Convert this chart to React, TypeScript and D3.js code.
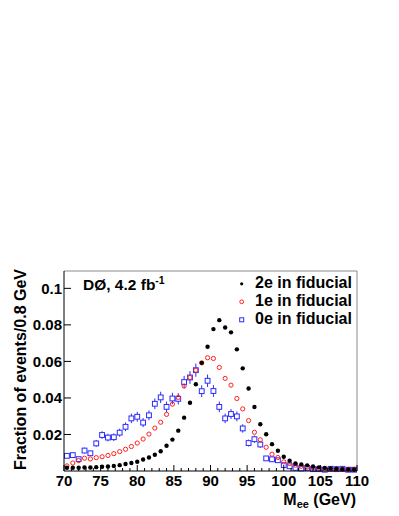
import React from "react";
import * as d3 from "d3";

// ---- data ----
const binCenters: number[] = [
  70.4, 71.2, 72.0, 72.8, 73.6, 74.4, 75.2, 76.0, 76.8, 77.6,
  78.4, 79.2, 80.0, 80.8, 81.6, 82.4, 83.2, 84.0, 84.8, 85.6,
  86.4, 87.2, 88.0, 88.8, 89.6, 90.4, 91.2, 92.0, 92.8, 93.6,
  94.4, 95.2, 96.0, 96.8, 97.6, 98.4, 99.2, 100.0, 100.8, 101.6,
  102.4, 103.2, 104.0, 104.8, 105.6, 106.4, 107.2, 108.0, 108.8, 109.6,
];

const twoE: number[] = [
  0.0018, 0.0018, 0.0018, 0.0019, 0.0019, 0.0021, 0.0023, 0.0025, 0.0028, 0.0032,
  0.0038, 0.0044, 0.0051, 0.0063, 0.0074, 0.0089, 0.0108, 0.0138, 0.0172, 0.0221,
  0.0292, 0.0374, 0.0475, 0.0592, 0.0680, 0.0777, 0.0826, 0.0786, 0.0759, 0.0666,
  0.0562, 0.0452, 0.0350, 0.0256, 0.0201, 0.0147, 0.0111, 0.0078, 0.0056, 0.0042,
  0.0036, 0.0031, 0.0025, 0.0020, 0.0017, 0.0014, 0.0012, 0.0010, 0.0009, 0.0008,
];

const oneE: number[] = [
  0.0028, 0.0044, 0.0057, 0.0070, 0.0066, 0.0073, 0.0078, 0.0085, 0.0095, 0.0106,
  0.0119, 0.0134, 0.0153, 0.0175, 0.0202, 0.0235, 0.0267, 0.0310, 0.0366, 0.0403,
  0.0465, 0.0512, 0.0552, 0.0592, 0.0620, 0.0616, 0.0567, 0.0507, 0.0470, 0.0397,
  0.0340, 0.0276, 0.0212, 0.0171, 0.0130, 0.0092, 0.0074, 0.0050, 0.0041, 0.0032,
  0.0026, 0.0023, 0.0017, 0.0014, 0.0011, 0.0010, 0.0010, 0.0010, 0.0009, 0.0009,
];

const zeroE: number[] = [
  0.0083, 0.0087, 0.0065, 0.0112, 0.0097, 0.0151, 0.0197, 0.0183, 0.0185, 0.0210,
  0.0242, 0.0288, 0.0297, 0.0265, 0.0305, 0.0368, 0.0403, 0.0351, 0.0397, 0.0395,
  0.0487, 0.0512, 0.0552, 0.0437, 0.0494, 0.0438, 0.0351, 0.0288, 0.0312, 0.0299,
  0.0233, 0.0153, 0.0174, 0.0145, 0.0069, 0.0064, 0.0059, 0.0032, 0.0026, 0.0017,
  0.0014, 0.0017, 0.0010, 0.0010, 0.0007, 0.0012, 0.0010, 0.0012, 0.0007, 0.0007,
];

const zeroEErr: number[] = [
  0.0014, 0.0014, 0.0012, 0.0016, 0.0015, 0.0019, 0.0021, 0.0021, 0.0021, 0.0022,
  0.0024, 0.0026, 0.0027, 0.0025, 0.0027, 0.0029, 0.0031, 0.0029, 0.0031, 0.0031,
  0.0034, 0.0035, 0.0036, 0.0032, 0.0034, 0.0032, 0.0029, 0.0026, 0.0027, 0.0027,
  0.0023, 0.0019, 0.0020, 0.0018, 0.0013, 0.0012, 0.0012, 0.0009, 0.0008, 0.0007,
  0.0006, 0.0007, 0.0005, 0.0005, 0.0004, 0.0006, 0.0005, 0.0006, 0.0004, 0.0004,
];

const xTicks: number[] = [70, 75, 80, 85, 90, 95, 100, 105, 110];
const yTicks: number[] = [0.02, 0.04, 0.06, 0.08, 0.1];
const yTickLabels: string[] = ["0.02", "0.04", "0.06", "0.08", "0.1"];
const legendLabels: string[] = ["2e in fiducial", "1e in fiducial", "0e in fiducial"];

// ---- layout ----
const W = 399;
const H = 516;
const L = 64;
const R = 357;
const T = 271;
const B = 471;
const FONT = "'Liberation Sans', Arial, Helvetica, sans-serif";
const RED = "#ff2020";
const BLUE = "#2a2aff";

export default function App() {
  const x = d3.scaleLinear().domain([70, 110]).range([L, R]);
  const y = d3.scaleLinear().domain([0, 0.1095]).range([B, T]);
  const minorX = d3.range(70, 111, 1).filter((v) => v % 5 !== 0);

  const sq = 4.8;

  return (
    <svg
      width={W}
      height={H}
      style={{ position: "absolute", left: 0, top: 0, background: "#fff" }}
      fontFamily={FONT}
      fontWeight="bold"
    >
      <rect x={0} y={0} width={W} height={H} fill="#fff" />
      {/* frame */}
      <line x1={L} y1={T} x2={R} y2={T} stroke="#8a8a8a" strokeWidth={1} />
      <line x1={R} y1={T} x2={R} y2={B} stroke="#8a8a8a" strokeWidth={1} />

      {/* data: 0e (blue squares with error bars) */}
      {binCenters.map((c, i) => {
        const cx = x(c);
        const cy = y(zeroE[i]);
        const yTop = y(zeroE[i] + zeroEErr[i]);
        const yBot = y(Math.max(0, zeroE[i] - zeroEErr[i]));
        const h = sq / 2;
        return (
          <g key={"b" + i} stroke={BLUE} strokeWidth={1} fill="none">
            {cy - h > yTop && <line x1={cx} x2={cx} y1={yTop} y2={cy - h} />}
            {yBot > cy + h && <line x1={cx} x2={cx} y1={cy + h} y2={Math.min(yBot, B)} />}
            <rect x={cx - h} y={cy - h} width={sq} height={sq} />
          </g>
        );
      })}
      {/* 1e red open circles */}
      {binCenters.map((c, i) => (
        <circle key={"r" + i} cx={x(c)} cy={y(oneE[i])} r={2.1} fill="none" stroke={RED} strokeWidth={1} />
      ))}
      {/* 2e black dots */}
      {binCenters.map((c, i) => (
        <circle key={"k" + i} cx={x(c)} cy={y(twoE[i])} r={2.2} fill="#000" />
      ))}

      {/* axes */}
      <line x1={L} y1={T} x2={L} y2={B} stroke="#000" strokeWidth={1} />
      <line x1={L} y1={B} x2={R} y2={B} stroke="#000" strokeWidth={1} />
      {xTicks.map((t) => (
        <g key={"xt" + t}>
          <line x1={x(t)} x2={x(t)} y1={B} y2={B - 6} stroke="#000" strokeWidth={1} />
          <text x={x(t)} y={485.5} textAnchor="middle" fontSize={15}>
            {t}
          </text>
        </g>
      ))}
      {minorX.map((t) => (
        <line key={"xm" + t} x1={x(t)} x2={x(t)} y1={B} y2={B - 3} stroke="#000" strokeWidth={1} />
      ))}
      {yTicks.map((t, i) => (
        <g key={"yt" + t}>
          <line x1={L} x2={L + 7} y1={y(t)} y2={y(t)} stroke="#000" strokeWidth={1} />
          <text x={62} y={y(t) + 5.3} textAnchor="end" fontSize={15}>
            {yTickLabels[i]}
          </text>
        </g>
      ))}

      {/* axis titles */}
      <text
        transform={`translate(26,269) rotate(-90)`}
        textAnchor="end"
        fontSize={16}
      >
        Fraction of events/0.8 GeV
      </text>
      <text x={356} y={505} textAnchor="end" fontSize={16}>
        M
        <tspan fontSize={11} dy={3}>ee</tspan>
        <tspan dy={-3}> (GeV)</tspan>
      </text>

      {/* experiment label */}
      <text x={83} y={290} fontSize={15.5}>
        DØ, 4.2 fb
        <tspan fontSize={10.5} dy={-6}>-1</tspan>
      </text>

      {/* legend */}
      {legendLabels.map((lab, i) => {
        const ly = 288.3 + i * 18;
        const my = ly - 4.5;
        const mx = 241.7;
        return (
          <g key={"lg" + i}>
            {i === 0 && <circle cx={mx} cy={my} r={1.6} fill="#000" />}
            {i === 1 && <circle cx={mx} cy={my} r={1.9} fill="none" stroke={RED} strokeWidth={1} />}
            {i === 2 && (
              <rect x={mx - 2} y={my - 2} width={4} height={4} fill="none" stroke={BLUE} strokeWidth={1} />
            )}
            <text x={255} y={ly} fontSize={16}>
              {lab}
            </text>
          </g>
        );
      })}
    </svg>
  );
}
